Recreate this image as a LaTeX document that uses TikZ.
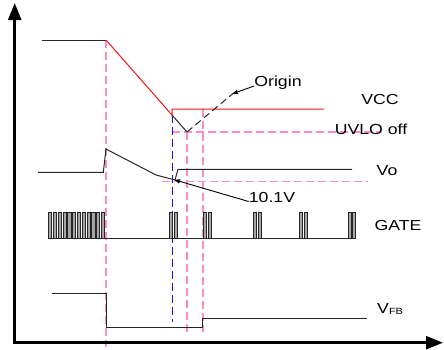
\documentclass[tikz,border=0pt]{standalone}
\usepackage{fontspec}
\usepackage{xcolor}
\usepackage{tikz}
\usetikzlibrary{arrows.meta,positioning}
\newfontfamily\lblfont[FakeStretch=1.22]{Liberation Sans}
\definecolor{guidepink}{RGB}{255,140,200}
\definecolor{vccred}{RGB}{250,20,20}
\definecolor{markblue}{RGB}{20,20,240}

\begin{document}
\begin{tikzpicture}
  [
  x=1pt,y=-1pt,
  axis/.style={line width=2.5pt,{Triangle[length=17pt,width=13pt]}-{Triangle[length=17pt,width=13pt]}},
  sig/.style={line width=1pt,black!85},
  pulse/.style={draw=black!85,fill=black!35,line width=0.7pt},
  guide/.style={draw=guidepink,line width=1.4pt,dash pattern=on 8pt off 4pt},
  blueguide/.style={draw=markblue,line width=1.2pt,dash pattern=on 8pt off 4pt},
  lbl/.style={font=\lblfont\fontsize{14.5}{17}\selectfont,inner sep=0pt},
  note/.style={->,shorten >=0pt,>={Stealth[round]},line width=0.9pt}
  ]
  \useasboundingbox (0,0) rectangle (444,349);
  % guide lines
  \draw[guide] (106,40) -- (106,347);
  \draw[guide] (187,132) -- (187,332);
  \draw[guide] (203,109) -- (203,332);
  \draw[guide] (172,132) -- (382,132);
  \draw[guide] (162,181.7) -- (368,181.7);
  \draw[blueguide] (172.3,115) -- (172.3,322);
  % axes
  \draw[axis] (14.7,3) -- (14.7,342.7) -- (443,342.7);
  % VCC
  \coordinate (vccfall) at (172,115);
  \coordinate (dip) at (187,132);
  \coordinate (orgpt) at (233,93.5);
  \draw[sig] (42,40) -- (106,40);
  \draw[sig,vccred] (106,40) -- (vccfall) -- (172,109) -- (324,109);
  \draw[sig] (vccfall) -- (dip);
  \draw[sig,dashed,dash pattern=on 7pt off 4pt] (dip) -- (orgpt);
  % Vo
  \coordinate (vomin) at (175,180);
  \draw[sig] (38,172.3) -- (103.3,172.3) -- (106,149) -- (156,175) -- (vomin)
    -- (178,169.3) -- (352,169.3);
  % GATE
  \draw[sig] (48,238.3) -- (356,238.3);
  \foreach \n in {0,...,11}
    \draw[pulse] ({48.5+4.8*\n},238.3) rectangle +(3.2,-25.6);
  \foreach \x in {169.5,203.5,253.5,299.5,348} {
    \draw[pulse] (\x,238.3) rectangle +(3,-25.6);
    \draw[pulse] ({\x+4.7},238.3) rectangle +(3,-25.6);
  }
  % VFB
  \draw[sig] (52.3,293) -- (106,293) -- (106,327.7) -- (202.7,327.7)
    -- (202.7,318.5) -- (366.7,318.5);
  % labels
  \node[lbl] (vcc) at (380,100) {VCC};
  \node[lbl] (uvlo) at (371,129) {UVLO off};
  \node[lbl] (vo) at (387,171) {Vo};
  \node[lbl] (gate) at (398,226) {GATE};
  \node[lbl,anchor=base west] (vfb) at (377,313.5)
    {V\raisebox{-1pt}{\fontsize{9}{9}\selectfont FB}};
  \node[lbl] (origin) at (278,83) {Origin};
  \node[lbl] (tenv) at (272,198) {10.1V};
  \draw[note] ([yshift=-3pt]origin.west) -- (orgpt);
  \draw[note] ([yshift=-3.5pt]tenv.west) -- (vomin);
\end{tikzpicture}
\end{document}
